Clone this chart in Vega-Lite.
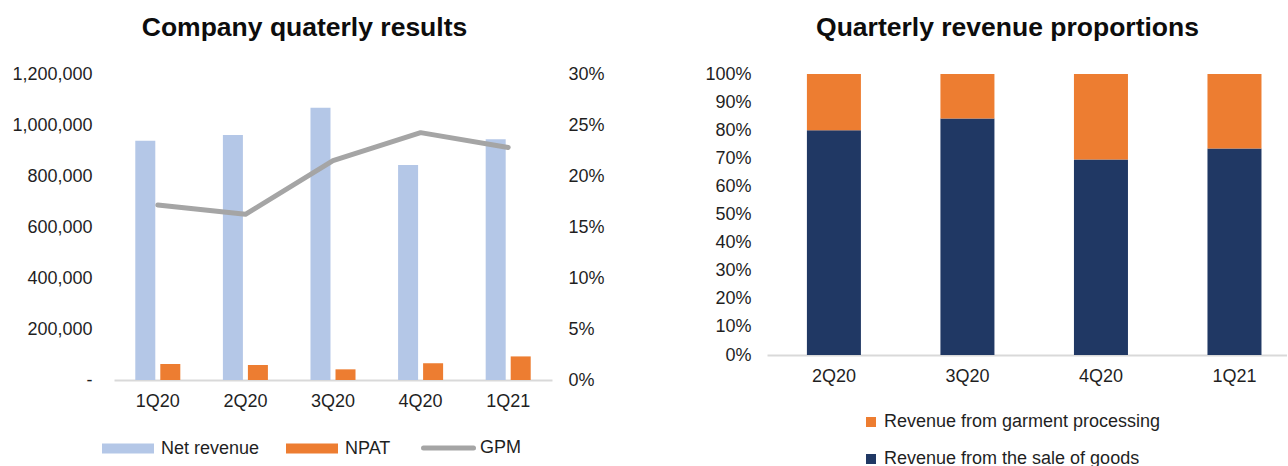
{
  "$schema": "https://vega.github.io/schema/vega-lite/v6.json",
  "background": "white",
  "padding": {"left": 11, "top": 15, "right": 0, "bottom": 0},
  "config": {
    "font": "Liberation Sans",
    "view": {"stroke": null},
    "axis": {
      "labelFont": "Liberation Sans",
      "labelFontSize": 18,
      "labelColor": "#1f1f1f",
      "ticks": false,
      "grid": false,
      "domain": false,
      "title": null
    },
    "title": {"font": "Liberation Sans", "fontSize": 26.5, "fontWeight": "bold", "color": "#0d0d0d"},
    "legend": {"labelFont": "Liberation Sans", "labelFontSize": 18, "labelColor": "#1f1f1f", "title": null, "labelLimit": 0}
  },
  "datasets": {
    "quarterly": [
      {"quarter": "1Q20", "series": "Net revenue", "value": 938000},
      {"quarter": "2Q20", "series": "Net revenue", "value": 960800},
      {"quarter": "3Q20", "series": "Net revenue", "value": 1067800},
      {"quarter": "4Q20", "series": "Net revenue", "value": 843100},
      {"quarter": "1Q21", "series": "Net revenue", "value": 943700},
      {"quarter": "1Q20", "series": "NPAT", "value": 62700},
      {"quarter": "2Q20", "series": "NPAT", "value": 58800},
      {"quarter": "3Q20", "series": "NPAT", "value": 41800},
      {"quarter": "4Q20", "series": "NPAT", "value": 65400},
      {"quarter": "1Q21", "series": "NPAT", "value": 92500},
      {"quarter": "1Q20", "series": "GPM", "value": 0.1716},
      {"quarter": "2Q20", "series": "GPM", "value": 0.1624},
      {"quarter": "3Q20", "series": "GPM", "value": 0.215},
      {"quarter": "4Q20", "series": "GPM", "value": 0.2425},
      {"quarter": "1Q21", "series": "GPM", "value": 0.228}
    ],
    "mix": [
      {"quarter": "2Q20", "segment": "Revenue from the sale of goods", "share": 0.8},
      {"quarter": "3Q20", "segment": "Revenue from the sale of goods", "share": 0.842},
      {"quarter": "4Q20", "segment": "Revenue from the sale of goods", "share": 0.696},
      {"quarter": "1Q21", "segment": "Revenue from the sale of goods", "share": 0.735},
      {"quarter": "2Q20", "segment": "Revenue from garment processing", "share": 0.2},
      {"quarter": "3Q20", "segment": "Revenue from garment processing", "share": 0.158},
      {"quarter": "4Q20", "segment": "Revenue from garment processing", "share": 0.304},
      {"quarter": "1Q21", "segment": "Revenue from garment processing", "share": 0.265}
    ]
  },
  "bounds": "flush",
  "spacing": 215,
  "resolve": {"scale": {"color": "independent", "x": "independent", "y": "independent"}, "legend": {"color": "independent"}},
  "hconcat": [
    {
      "width": 438,
      "height": 306,
      "title": {"text": "Company quaterly results", "anchor": "middle", "frame": "group", "dx": -28.5, "offset": 23.5},
      "data": {"name": "quarterly"},
      "encoding": {
        "x": {
          "field": "quarter",
          "type": "nominal",
          "sort": ["1Q20", "2Q20", "3Q20", "4Q20", "1Q21"],
          "scale": {"paddingInner": 0.486, "paddingOuter": 0.243},
          "axis": {"labelAngle": 0, "domain": true, "domainColor": "#d9d9d9", "domainWidth": 2, "labelPadding": 12}
        }
      },
      "layer": [
        {
          "transform": [{"filter": "datum.series !== 'GPM'"}],
          "mark": {"type": "bar"},
          "encoding": {
            "xOffset": {
              "field": "series",
              "type": "nominal",
              "sort": ["Net revenue", "NPAT"],
              "scale": {"paddingInner": 0.2, "paddingOuter": 0}
            },
            "y": {
              "field": "value",
              "type": "quantitative",
              "scale": {"domain": [0, 1200000], "nice": false},
              "axis": {
                "values": [0, 200000, 400000, 600000, 800000, 1000000, 1200000],
                "labelExpr": "datum.value === 0 ? '-\u00a0\u00a0' : format(datum.value, ',')",
                "labelPadding": 22
              }
            },
            "color": {
              "field": "series",
              "type": "nominal",
              "scale": {"domain": ["Net revenue", "NPAT", "GPM"], "range": ["#b4c7e7", "#ed7d31", "#a5a5a5"]},
              "legend": {
                "orient": "none",
                "legendX": -16,
                "legendY": 365,
                "direction": "horizontal",
                "symbolSize": 100,
                "symbolStrokeWidth": 0,
                "labelOffset": 45,
                "columnPadding": 22,
                "encode": {
                  "symbols": {
                    "update": {
                      "shape": {"signal": "datum.value === 'GPM' ? 'M-0.5,0H9.5' : 'M-1,-1H9.4V1H-1Z'"},
                      "fill": {"signal": "datum.value === 'GPM' ? 'transparent' : (datum.value === 'NPAT' ? '#ed7d31' : '#b4c7e7')"},
                      "stroke": {"signal": "datum.value === 'GPM' ? '#a5a5a5' : 'transparent'"},
                      "strokeWidth": {"signal": "datum.value === 'GPM' ? 5 : 0"},
                      "strokeCap": {"value": "round"},
                      "opacity": {"value": 1}
                    }
                  }
                }
              }
            }
          }
        },
        {
          "transform": [{"filter": "datum.series === 'GPM'"}],
          "mark": {"type": "line", "strokeWidth": 5, "strokeCap": "round", "strokeJoin": "round"},
          "encoding": {
            "y": {
              "field": "value",
              "type": "quantitative",
              "scale": {"domain": [0, 0.3], "nice": false},
              "axis": {
                "orient": "right",
                "values": [0, 0.05, 0.1, 0.15, 0.2, 0.25, 0.3],
                "format": ".0%",
                "labelPadding": 16
              }
            },
            "color": {"field": "series", "type": "nominal"}
          }
        }
      ],
      "resolve": {"scale": {"y": "independent"}}
    },
    {
      "width": 520,
      "height": 281,
      "title": {"text": "Quarterly revenue proportions", "anchor": "middle", "frame": "group", "dx": -19.5, "offset": 23.5},
      "data": {"name": "mix"},
      "mark": {"type": "bar"},
      "encoding": {
        "x": {
          "field": "quarter",
          "type": "nominal",
          "sort": ["2Q20", "3Q20", "4Q20", "1Q21"],
          "scale": {"paddingInner": 0.5955, "paddingOuter": 0.245, "align": 0.61},
          "axis": {"labelAngle": 0, "domain": true, "domainColor": "#d9d9d9", "domainWidth": 2, "labelPadding": 12}
        },
        "y": {
          "field": "share",
          "type": "quantitative",
          "stack": "zero",
          "scale": {"domain": [0, 1], "nice": false},
          "axis": {
            "values": [0, 0.1, 0.2, 0.3, 0.4, 0.5, 0.6, 0.7, 0.8, 0.9, 1],
            "format": ".0%",
            "labelPadding": 16
          }
        },
        "color": {
          "field": "segment",
          "type": "nominal",
          "scale": {
            "domain": ["Revenue from garment processing", "Revenue from the sale of goods"],
            "range": ["#ed7d31", "#203864"]
          },
          "legend": {
            "orient": "none",
            "legendX": 95,
            "legendY": 339,
            "direction": "vertical",
            "symbolType": "square",
            "symbolSize": 100,
            "symbolStrokeWidth": 0,
            "labelOffset": 4,
            "rowPadding": 19
          }
        },
        "order": {"field": "segment", "sort": "descending"}
      }
    }
  ]
}
